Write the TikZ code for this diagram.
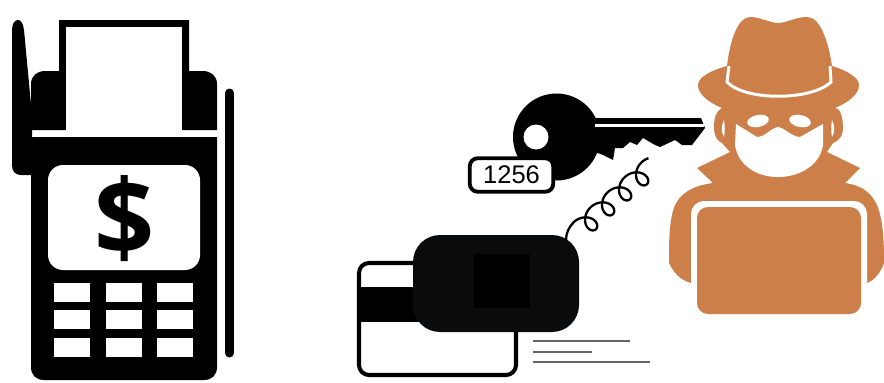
\documentclass[tikz,border=0pt]{standalone}
\usepackage{fontspec}
\setmainfont{Liberation Sans}
\newfontfamily\signfont{Open Sans}

\begin{document}
\begin{tikzpicture}[x=.02cm,y=-.02cm,
  solid/.style={fill=black,draw=none},
  hole/.style={fill=white,draw=none},
  spy/.style={fill=spyfill,draw=none},
  textline/.style={draw=black!60,line width=1.5pt}]
\definecolor{spyfill}{RGB}{205,127,74}
\definecolor{readerfill}{RGB}{10,11,12}
\useasboundingbox (0,0) rectangle (884,382);
% payment terminal
\fill[solid] (12,30) .. controls (12,23) and (15,20) .. (18,20) .. controls (21,20) and (23,23) .. (24,30)
  -- (32,115) -- (32,175) -- (21,175) .. controls (15,175) and (12,171) .. (12,165) -- cycle;
\fill[solid] (31,130) -- (31,84) .. controls (31,76) and (37,71) .. (45,71) -- (59,71) -- (59,20) -- (189,20)
  -- (189,71) -- (203,71) .. controls (211,71) and (217,76) .. (217,84) -- (217,130) -- cycle;
\fill[hole] (66,27) rectangle (182,131);
\fill[solid] (31,137) -- (217,137) -- (217,367) .. controls (217,375) and (212,380) .. (204,380)
  -- (44,380) .. controls (36,380) and (31,375) .. (31,367) -- cycle;
\fill[hole,rounded corners=.3cm] (48,165) rectangle (200,270);
\node[inner sep=0pt,font=\signfont\fontsize{60}{60}\selectfont\bfseries] (dollar) at (124.5,219) {\$};
\foreach \keyx in {54,106,157}
  \foreach \keyy in {283,310,338}
    \fill[hole] (\keyx,\keyy) rectangle ++(36,19);
\draw[line width=.18cm,line cap=round] (229.5,93) -- (229.5,353);
% key
\fill[solid] (556.5,137) circle (43.5);
\fill[solid] (590,118) -- (701,118) -- (705,128) -- (692,145) -- (682,145) -- (675,140) -- (660,147) -- (655,145)
  -- (643,138) -- (637,145) -- (630,142) -- (623,148) -- (615,148) -- (613,160) -- (603,155) -- (590,150) -- cycle;
\draw[white,line width=1.7pt] (595,125.5) -- (704,125.5);
\fill[hole] (536,137) circle (12.5);
\node[draw=black,fill=white,line width=2.2pt,rounded corners=.16cm,minimum width=1.67cm,minimum height=.67cm,
  inner sep=0pt,font=\fontsize{14.5}{14.5}\selectfont] (pin) at (511.5,175) {1256};
% card and reader
\draw[fill=white,draw=black,line width=2.3pt,rounded corners=.2cm] (359,263) rectangle (516,375);
\fill[solid] (357,287) rectangle (430,322);
\fill[readerfill,rounded corners=.54cm] (413,235) rectangle (579,332);
\fill[solid] (474,254) rectangle (530,308);
\draw[textline] (533,341) -- (630,341);
\draw[textline] (533,352) -- (592,352);
\draw[textline] (533,362) -- (650,362);
% coil between reader and key
\coordinate (coilstart) at (566,240);
\coordinate (coilfrom) at (573.5,222.5);
\draw[line width=1.3pt] (coilstart) .. controls (566,233) and (569,227) .. (coilfrom)
  -- plot[domain=225:1700,samples=300] ({580.5+.04722*(\x-225)+10*cos(\x)},{229.5-.04167*(\x-225)+10*sin(\x)});
% spy
\fill[spy] (727,66) .. controls (730,40) and (738,17) .. (750,17) .. controls (760,17) and (770,23) .. (778,23)
  .. controls (786,23) and (796,17) .. (807,17) .. controls (820,17) and (828,40) .. (832,66)
  .. controls (848,71) and (859,78) .. (859,85) .. controls (859,95) and (847,103) .. (835,108)
  .. controls (843,108) and (843,127) .. (843,127) .. controls (843,136) and (839,141) .. (833,143)
  -- (827,152) -- (860,168) -- (845,183) .. controls (865,186) and (872,195) .. (877,205)
  .. controls (883,220) and (884,240) .. (884,263) .. controls (880,273) and (875,280) .. (867,283)
  -- (691,283) .. controls (680,280) and (674,273) .. (669,263) .. controls (669,240) and (669,220) .. (675,205)
  .. controls (680,195) and (690,186) .. (713,183) -- (697,168) -- (730,152) -- (722,143)
  .. controls (717,141) and (714,136) .. (714,127) .. controls (714,118) and (716,111) .. (722,108)
  .. controls (710,103) and (698,95) .. (698,85) .. controls (698,78) and (709,71) .. (727,66) -- cycle;
\draw[white,line width=1.7pt] (729,66) -- (727,82) .. controls (745,101) and (811,101) .. (831,82) -- (830,66);
\fill[hole] (736,124) -- (757,137) .. controls (765,137) and (771,128) .. (778,127) .. controls (785,128) and (792,137) .. (800,137)
  -- (823,124) -- (823,145) .. controls (820,165) and (800,177) .. (778,177) .. controls (756,177) and (738,165) .. (735,145) -- cycle;
\fill[hole,rotate around={12:(758,121)}] (758,121) ellipse (11 and 6);
\fill[hole,rotate around={-12:(800,121)}] (800,121) ellipse (11 and 6);
\fill[hole] (724,120) .. controls (721,126) and (721,132) .. (724,137) .. controls (725,132) and (725,126) .. (724,120) -- cycle;
\fill[hole] (832,120) .. controls (835,126) and (835,132) .. (832,137) .. controls (831,132) and (831,126) .. (832,120) -- cycle;
\fill[hole,rounded corners=.26cm] (691,201) rectangle (867,320);
\fill[spy,rounded corners=.22cm] (697,207) rectangle (861,314);
\end{tikzpicture}
\end{document}
